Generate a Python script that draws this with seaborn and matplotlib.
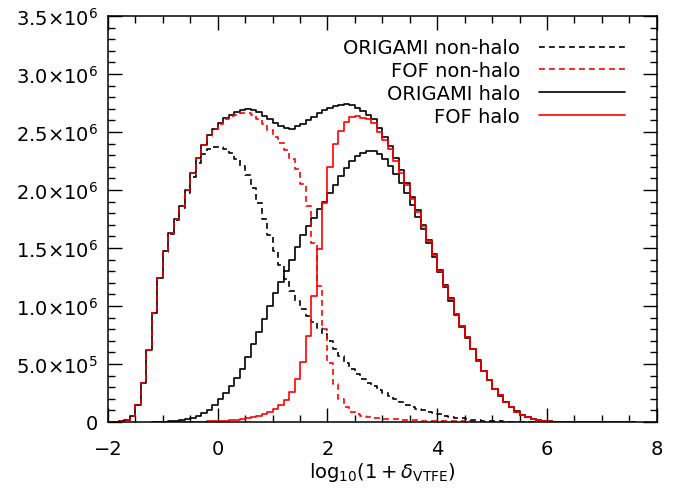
#histograms of log density for halo / non-halo particles (ORIGAMI vs FOF)

import numpy as np
from matplotlib import pyplot as plt
import seaborn as sns

binw = 0.1

# counts per bin in units of 1e6, bins start at the given left edge
total_start = -2.0
total = [0, 0, 0.005, 0.02, 0.05, 0.147, 0.34, 0.62, 0.94, 1.24,
         1.47, 1.63, 1.75, 1.865, 2.00, 2.15, 2.28, 2.39, 2.47, 2.53,
         2.58, 2.62, 2.65, 2.67, 2.69, 2.70, 2.69, 2.67, 2.64, 2.61,
         2.58, 2.555, 2.535, 2.53, 2.55, 2.57, 2.60, 2.63, 2.665, 2.69,
         2.71, 2.725, 2.735, 2.74, 2.73, 2.71, 2.68, 2.645, 2.615, 2.535,
         2.46, 2.38, 2.275, 2.17, 2.06, 1.94, 1.825, 1.70, 1.57, 1.45,
         1.31, 1.185, 1.065, 0.935, 0.83, 0.735, 0.633, 0.533, 0.443, 0.362,
         0.287, 0.231, 0.171, 0.128, 0.091, 0.061, 0.041, 0.026, 0.016, 0.01,
         0.006, 0.003, 0.002, 0.001, 0, 0, 0, 0, 0, 0,
         0, 0, 0, 0, 0, 0]

orig_nonhalo_start = -2.0
orig_nonhalo = [0, 0, 0.005, 0.02, 0.05, 0.147, 0.34, 0.62, 0.94, 1.238,
                1.466, 1.623, 1.739, 1.848, 1.975, 2.115, 2.23, 2.31, 2.35, 2.37,
                2.37, 2.355, 2.32, 2.27, 2.21, 2.13, 2.02, 1.89, 1.75, 1.61,
                1.47, 1.35, 1.23, 1.13, 1.04, 0.97, 0.91, 0.86, 0.81, 0.76,
                0.70, 0.63, 0.57, 0.51, 0.46, 0.41, 0.37, 0.34, 0.31, 0.28,
                0.25, 0.22, 0.20, 0.17, 0.15, 0.13, 0.115, 0.10, 0.088, 0.076,
                0.065, 0.055, 0.046, 0.038, 0.031, 0.025, 0.02, 0.016, 0.012, 0.009,
                0.007, 0.005, 0.003, 0.002, 0.001, 0, 0, 0, 0, 0]

fof_nonhalo_start = -2.0
fof_nonhalo = [0, 0, 0.005, 0.02, 0.05, 0.147, 0.34, 0.62, 0.94, 1.24,
               1.47, 1.63, 1.75, 1.865, 2.00, 2.15, 2.277, 2.386, 2.465, 2.523,
               2.571, 2.608, 2.634, 2.649, 2.663, 2.665, 2.645, 2.61, 2.565, 2.515,
               2.46, 2.405, 2.345, 2.27, 2.18, 2.05, 1.86, 1.54, 1.17, 0.80,
               0.51, 0.33, 0.20, 0.13, 0.09, 0.065, 0.05, 0.042, 0.036, 0.032,
               0.028, 0.025, 0.022, 0.02, 0.018, 0.016, 0.014, 0.012, 0.011, 0.01,
               0.009, 0.008, 0.007, 0.006, 0.005, 0.004, 0.004, 0.003, 0.003, 0.002,
               0.002, 0.001, 0.001, 0.001, 0, 0, 0, 0, 0, 0]

orig_halo_start = -1.2
orig_halo = [0, 0.002,
             0.004, 0.007, 0.011, 0.017, 0.025, 0.035, 0.05, 0.075, 0.105, 0.15,
             0.20, 0.25, 0.31, 0.38, 0.46, 0.56, 0.67, 0.78, 0.89, 1.00,
             1.11, 1.21, 1.30, 1.40, 1.51, 1.61, 1.69, 1.76, 1.84, 1.90,
             1.97, 2.04, 2.12, 2.19, 2.25, 2.29, 2.32, 2.34, 2.335, 2.31,
             2.27, 2.21, 2.14, 2.06, 1.97, 1.87, 1.77, 1.66, 1.54, 1.42,
             1.29, 1.16, 1.04, 0.925, 0.82, 0.725, 0.625, 0.53, 0.44, 0.36,
             0.285, 0.228, 0.17, 0.127, 0.09, 0.06, 0.04, 0.025, 0.015, 0.01,
             0.006, 0.003, 0.002, 0.001, 0, 0, 0, 0, 0, 0,
             0, 0, 0, 0, 0, 0]

fof_halo_start = -0.7
fof_halo = [0, 0.001, 0.002, 0.003, 0.004, 0.005, 0.007,
            0.009, 0.012, 0.016, 0.021, 0.027, 0.035, 0.042, 0.05, 0.065, 0.085,
            0.11, 0.145, 0.19, 0.26, 0.37, 0.52, 0.74, 1.09, 1.49, 1.89,
            2.20, 2.40, 2.51, 2.59, 2.63, 2.635, 2.625, 2.61, 2.58, 2.50,
            2.43, 2.35, 2.25, 2.15, 2.04, 1.92, 1.81, 1.69, 1.56, 1.44,
            1.30, 1.175, 1.06, 0.93, 0.825, 0.73, 0.63, 0.53, 0.44, 0.36,
            0.285, 0.23, 0.17, 0.127, 0.09, 0.06, 0.04, 0.025, 0.015, 0.01,
            0.006, 0.003, 0.002, 0.001, 0, 0, 0, 0, 0, 0,
            0, 0, 0, 0, 0, 0]

ytick_vals = [0, 0.5e6, 1.0e6, 1.5e6, 2.0e6, 2.5e6, 3.0e6, 3.5e6]
ytick_labels = ['0', r'$5.0{\times}10^{5}$', r'$1.0{\times}10^{6}$', r'$1.5{\times}10^{6}$',
                r'$2.0{\times}10^{6}$', r'$2.5{\times}10^{6}$', r'$3.0{\times}10^{6}$',
                r'$3.5{\times}10^{6}$']
xtick_vals = [-2, 0, 2, 4, 6, 8]

sns.set_style("ticks")
plt.rcParams['font.family'] = ['DejaVu Sans']
plt.rcParams['mathtext.fontset'] = 'dejavusans'
plt.rcParams['text.color'] = 'black'
plt.rcParams['axes.labelcolor'] = 'black'
plt.rcParams['axes.edgecolor'] = 'black'
plt.rcParams['xtick.color'] = 'black'
plt.rcParams['ytick.color'] = 'black'

fig = plt.figure(figsize=(6.78, 4.89), dpi=100)
ax = fig.add_axes([0.1593, 0.135, 0.8093, 0.8302])

dash = (0, (3.5, 2.5))
series = [(total, total_start, 'black', '-', None),
          (orig_nonhalo, orig_nonhalo_start, 'black', dash, 'ORIGAMI non-halo'),
          (orig_halo, orig_halo_start, 'black', '-', 'ORIGAMI halo'),
          (fof_nonhalo, fof_nonhalo_start, 'red', dash, 'FOF non-halo'),
          (fof_halo, fof_halo_start, 'red', '-', 'FOF halo')]

handles = {}
for vals, start, col, ls, name in series:
    n = len(vals)
    edges = start + binw * np.arange(n + 1)
    centers = edges[:-1] + binw / 2
    sns.histplot(x=centers, weights=np.array(vals) * 1e6, bins=edges.tolist(), element="step",
                 fill=False, color=col, linestyle=ls, linewidth=1.2, ax=ax)
    if name is not None:
        handles[name] = ax.lines[-1]

order = ['ORIGAMI non-halo', 'FOF non-halo', 'ORIGAMI halo', 'FOF halo']
ax.legend([handles[k] for k in order], order, loc='upper right', markerfirst=False,
          frameon=False, fontsize=14, handlelength=4.4, handletextpad=1.0,
          labelspacing=0.2, borderpad=0, borderaxespad=0,
          bbox_to_anchor=(0.942, 0.945))

ax.set_xlim(-2, 8)
ax.set_ylim(0, 3.5e6)
ax.set_xticks(xtick_vals)
ax.set_xticklabels([('\u2212' + str(-v)) if v < 0 else str(v) for v in xtick_vals])
ax.set_yticks(ytick_vals)
ax.set_yticklabels(ytick_labels)
ax.set_xticks(np.arange(-2, 8.01, 0.5), minor=True)
ax.set_yticks(np.arange(0, 3.51e6, 1e5), minor=True)
ax.tick_params(which='both', direction='in', top=True, right=True, labelsize=14, width=1.0)
ax.tick_params(which='major', length=10)
ax.tick_params(which='minor', length=5)
ax.tick_params(axis='x', pad=12)
ax.tick_params(axis='y', pad=7)
for s in ax.spines.values():
    s.set_linewidth(1.1)
ax.set_ylabel('')
ax.set_xlabel(r'$\mathregular{log}_{10}(1+\delta_{\mathregular{VTFE}})$', fontsize=14, labelpad=2)

fig.savefig('out.png', dpi=100)
